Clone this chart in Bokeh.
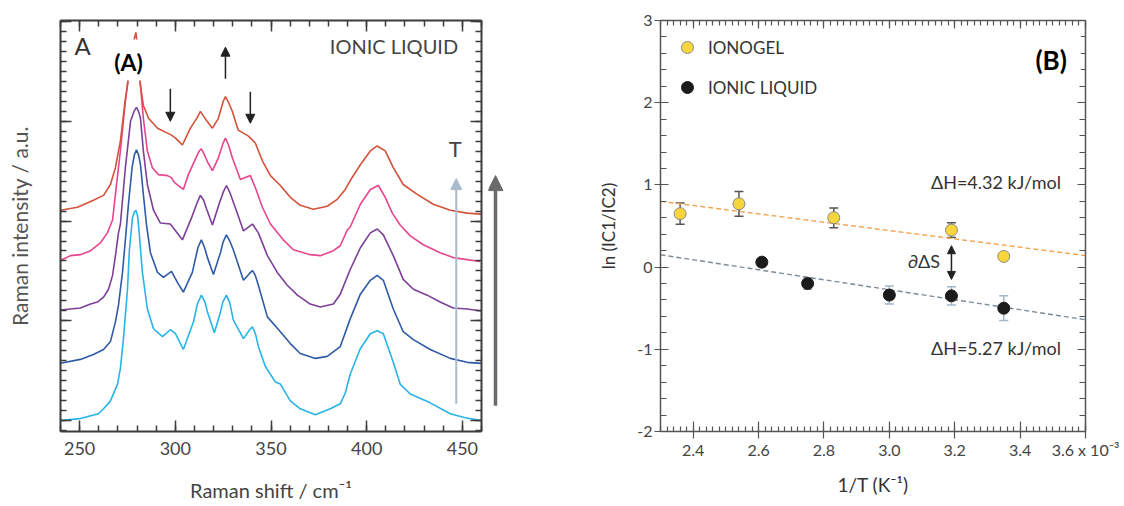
from bokeh.plotting import figure
from bokeh.layouts import row
from bokeh.models import (Range1d, FixedTicker, LinearAxis, Label, Arrow, NormalHead,
                          TeeHead, Whisker, ColumnDataSource, Legend, LegendItem)
from bokeh.embed import file_html
from bokeh.resources import INLINE

FONT = "Lato"

# ---------------- Panel A data: Raman spectra (shift in cm^-1, intensity in a.u.) -------------
cyan_x = [240.0, 249.9, 259.8, 262.5, 266.1, 269.8, 271.3, 272.9, 275.0, 276.0, 277.6, 278.5, 279.4,
          280.2, 280.7, 282.8, 285.4, 288.6, 293.3, 297.4, 300.1, 304.2, 309.5, 311.5, 313.6, 315.5,
          316.8, 320.4, 323.6, 324.8, 326.7, 328.5, 330.3, 335.6, 338.5, 340.3, 342.0, 343.4, 347.0,
          352.3, 354.9, 360.1, 365.3, 373.2, 381.0, 386.2, 388.8, 391.4, 396.7, 401.9, 405.5, 408.7,
          413.9, 417.5, 422.8, 433.2, 443.7, 451.5, 459.8]
cyan_y = [11, 13, 18, 23, 31, 48, 64, 94, 144, 184, 216, 222, 224,
          219, 211, 161, 124, 104, 96, 103, 99, 83, 111, 129, 138, 131,
          121, 100, 121, 131, 138, 130, 113, 94, 102, 106, 98, 86, 66,
          50, 48, 31, 23, 17, 23, 28, 39, 58, 84, 99, 102, 99,
          70, 48, 38, 29, 18, 14, 11]

blue_x = [240.0, 250.4, 257.2, 262.5, 266.1, 268.7, 270.3, 272.4, 273.9, 275.5, 277.4, 278.6, 279.7,
          280.8, 281.8, 283.3, 284.9, 287.0, 290.7, 293.8, 298.0, 301.1, 304.2, 308.9, 311.8, 313.6,
          315.3, 316.8, 319.9, 323.6, 325.0, 326.7, 328.4, 330.3, 335.6, 338.8, 340.3, 341.8, 343.4,
          348.1, 354.9, 360.1, 365.3, 373.2, 379.4, 386.2, 391.4, 396.7, 401.9, 405.5, 408.7, 413.9,
          419.1, 424.4, 433.2, 443.7, 452.5, 459.8]
blue_y = [69, 73, 78, 83, 91, 111, 128, 161, 194, 230, 267, 280, 285,
          280, 270, 240, 210, 181, 161, 156, 162, 151, 141, 161, 186, 194,
          186, 176, 159, 181, 192, 199, 193, 184, 153, 160, 163, 158, 148,
          116, 101, 89, 79, 74, 76, 86, 114, 139, 153, 158, 153, 124,
          101, 93, 83, 74, 70, 69]

purple_x = [240.0, 250.4, 255.7, 259.3, 262.5, 265.1, 267.2, 268.7, 270.3, 271.3, 273.9, 276.6, 278.4,
            279.7, 280.8, 281.8, 283.3, 285.4, 288.6, 292.2, 297.4, 303.7, 308.4, 311.5, 313.1, 314.8,
            316.2, 319.4, 323.0, 325.0, 326.7, 328.5, 332.4, 335.6, 340.3, 343.4, 348.1, 353.3, 358.5,
            363.8, 370.5, 375.8, 382.6, 386.2, 391.4, 396.7, 401.9, 405.5, 408.7, 413.9, 419.1, 424.4,
            431.6, 438.4, 445.2, 452.5, 459.8]
purple_y = [123, 125, 129, 131, 136, 144, 158, 178, 201, 210, 267, 314, 324,
            328, 324, 317, 284, 250, 224, 211, 210, 194, 216, 232, 239, 234,
            226, 209, 231, 242, 249, 242, 221, 203, 210, 201, 178, 161, 148,
            138, 129, 126, 129, 139, 164, 186, 201, 205, 199, 178, 154, 144,
            138, 131, 125, 124, 122]

pink_x = [240.0, 245.2, 250.4, 255.7, 260.9, 264.5, 267.2, 268.7, 271.3, 273.9, 275.5, 277.1, 279.4,
          280.7, 281.8, 283.3, 285.4, 288.0, 291.2, 295.9, 297.9, 299.6, 304.2, 306.8, 311.5, 312.5,
          313.6, 315.0, 316.8, 319.4, 322.5, 325.0, 326.2, 327.8, 329.8, 334.0, 339.2, 341.8, 345.5,
          349.7, 356.4, 361.7, 370.5, 375.8, 382.6, 386.2, 389.9, 391.4, 396.7, 401.9, 406.1, 409.7,
          413.4, 417.5, 422.8, 429.6, 438.4, 445.2, 452.5, 459.3]
pink_y = [173, 178, 179, 183, 191, 201, 214, 240, 284, 334, 360, 376, 383,
          371, 350, 317, 284, 267, 260, 259, 257, 252, 245, 260, 280, 284,
          286, 281, 273, 264, 277, 292, 297, 290, 277, 255, 259, 247, 227,
          210, 194, 184, 179, 178, 183, 188, 204, 207, 230, 245, 249, 237,
          221, 209, 198, 189, 181, 176, 174, 172]

red_x = [240.0, 248.9, 257.2, 262.5, 266.1, 268.7, 271.3, 273.9, 275.0, 277.1, 279.4, 280.7, 281.8,
         283.3, 286.0, 290.7, 295.9, 298.0, 300.1, 303.7, 307.9, 311.5, 313.1, 314.8, 316.2, 319.4,
         322.5, 325.0, 326.2, 327.8, 329.8, 332.9, 338.2, 341.8, 345.5, 349.7, 354.9, 360.1, 365.3,
         372.1, 379.4, 384.6, 388.8, 391.4, 396.7, 401.9, 405.5, 409.7, 413.9, 419.1, 426.4, 434.8,
         443.7, 452.5, 459.8]
red_y = [224, 227, 234, 239, 250, 267, 294, 337, 350, 386, 404, 381, 350,
         330, 317, 307, 302, 300, 297, 290, 307, 318, 324, 319, 315, 307,
         317, 334, 339, 333, 324, 305, 299, 292, 274, 259, 249, 237, 229,
         225, 228, 235, 245, 254, 270, 284, 289, 284, 267, 250, 240, 230,
         224, 221, 220]

spectra = [
    (cyan_x, cyan_y, "#27b4e8"),
    (blue_x, blue_y, "#2f5aa6"),
    (purple_x, purple_y, "#7e3f98"),
    (pink_x, pink_y, "#e8458f"),
    (red_x, red_y, "#d2523a"),
]
xA_ticks = [250, 300, 350, 400, 450]
xA_tick_labels = ["250", "300", "350", "400", "450"]

# ---------------- Panel B data: ln(Ic1/Ic2) vs 1/T (x 10^-3 K^-1) -------------
inv_T_gel = [2.36, 2.54, 2.83, 3.19, 3.35]
ln_gel = [0.65, 0.77, 0.60, 0.45, 0.13]
err_gel = [0.13, 0.15, 0.12, 0.09, 0.0]
inv_T_il = [2.61, 2.75, 3.00, 3.19, 3.35]
ln_il = [0.06, -0.20, -0.34, -0.35, -0.50]
err_il = [0.0, 0.07, 0.11, 0.11, 0.15]
fit_x = [2.3, 3.6]
fit_gel = [0.80, 0.14]
fit_il = [0.15, -0.64]
xB_ticks = [2.4, 2.6, 2.8, 3.0, 3.2, 3.4, 3.6]
xB_tick_labels = ["2.4", "2.6", "2.8", "3.0", "3.2", "3.4", "3.6 x 10\u207b\u00b3"]
yB_ticks = [-2, -1, 0, 1, 2, 3]
yB_tick_labels = ["-2", "-1", "0", "1", "2", "3"]


def style_axis(ax, color, lw, tlw, maj_in, maj_out, min_in, min_out, labels=True,
               lab_size="15px", lab_color="#444"):
    ax.axis_line_color = color
    ax.axis_line_width = lw
    ax.major_tick_line_color = color
    ax.minor_tick_line_color = color
    ax.major_tick_line_width = tlw
    ax.minor_tick_line_width = tlw
    ax.major_tick_in = maj_in
    ax.major_tick_out = maj_out
    ax.minor_tick_in = min_in
    ax.minor_tick_out = min_out
    if labels:
        ax.major_label_text_font = FONT
        ax.major_label_text_font_size = lab_size
        ax.major_label_text_color = lab_color
    else:
        ax.major_label_text_font_size = "1px"
        ax.major_label_text_color = None
        ax.major_label_standoff = 0
    ax.axis_label_text_font = FONT
    ax.axis_label_text_font_style = "normal"


# ================= Panel A =================
pA = figure(width=488, height=506, x_range=Range1d(240, 460), y_range=Range1d(0, 416),
            output_backend="svg", toolbar_location=None,
            min_border_left=60, min_border_right=7, min_border_top=15, min_border_bottom=75)
pA.outline_line_color = None
pA.grid.visible = False

for xs, ys, col in spectra:
    pA.line(xs, ys, line_color=col, line_width=1.6)

ax_tick_A = FixedTicker(ticks=xA_ticks, minor_ticks=list(range(240, 461, 10)))
ay_major = [11 + 101 * k for k in range(5)]
ay_minor = [11 + 10.1 * k for k in range(-1, 41)]
ay_tick_A = FixedTicker(ticks=ay_major, minor_ticks=ay_minor)

cA = "#3c3c3c"
xb = pA.xaxis[0]
xb.ticker = ax_tick_A
xb.major_label_overrides = dict(zip(xA_ticks, xA_tick_labels))
style_axis(xb, cA, 2, 1.5, 11, 0, 6, 0, labels=True, lab_size="18px", lab_color="#444")
xb.major_label_standoff = 10
xb.axis_label = "Raman shift / cm\u207b\u00b9"
xb.axis_label_text_font_size = "20px"
xb.axis_label_text_color = "#444"
xb.axis_label_standoff = 20

yl = pA.yaxis[0]
yl.ticker = ay_tick_A
style_axis(yl, cA, 2, 1.5, 11, 0, 6, 0, labels=False)
yl.axis_label = "Raman intensity / a.u."
yl.axis_label_text_font_size = "21px"
yl.axis_label_text_color = "#555"
yl.axis_label_standoff = 29

xt = LinearAxis(ticker=ax_tick_A)
style_axis(xt, cA, 2, 1.5, 11, 0, 6, 0, labels=False)
pA.add_layout(xt, "above")
yr = LinearAxis(ticker=ay_tick_A)
style_axis(yr, cA, 2, 1.5, 11, 0, 6, 0, labels=False)
pA.add_layout(yr, "right")

# annotations panel A
pA.add_layout(Label(x=251.5, y=391, text="A", text_font=FONT, text_font_size="24px",
                    text_color="#333", text_align="center", text_baseline="middle"))
pA.add_layout(Label(x=447.8, y=390, text="IONIC LIQUID", text_font=FONT, text_font_size="20px",
                    text_color="#444", text_align="right", text_baseline="middle"))
pA.add_layout(Label(x=275.5, y=376, text="(A)", text_font=FONT, text_font_size="23px",
                    text_font_style="bold", text_color="black", text_align="center",
                    text_baseline="middle", background_fill_color="white",
                    padding=dict(left=4, right=4, top=8, bottom=5)))
pA.add_layout(Label(x=446.3, y=286, text="T", text_font=FONT, text_font_size="22px",
                    text_color="#444", text_align="center", text_baseline="middle"))

arrow_col = "#222222"
for x0, y0, y1 in [(297.4, 347, 314), (326.2, 357, 389), (339.2, 344, 312)]:
    pA.add_layout(Arrow(x_start=x0, y_start=y0, x_end=x0, y_end=y1, line_color=arrow_col,
                        line_width=1.5,
                        end=NormalHead(size=9, fill_color=arrow_col, line_color=arrow_col)))
pA.add_layout(Arrow(x_start=446.8, y_start=28, x_end=446.8, y_end=256, line_color="#a8bccc",
                    line_width=2,
                    end=NormalHead(size=11, fill_color="#a8bccc", line_color="#a8bccc")))

# ================= Gap strip with the temperature arrow =================
pC = figure(width=40, height=506, x_range=Range1d(0, 40), y_range=Range1d(0, 416),
            output_backend="svg", toolbar_location=None, x_axis_type=None, y_axis_type=None,
            min_border_left=0, min_border_right=0, min_border_top=15, min_border_bottom=75)
pC.outline_line_color = None
pC.grid.visible = False
pC.add_layout(Arrow(x_start=7, y_start=26, x_end=7, y_end=259, line_color="#6b6b6b",
                    line_width=3.5,
                    end=NormalHead(size=15, fill_color="#6b6b6b", line_color="#6b6b6b")))

# ================= Panel B =================
pB = figure(width=596, height=506, x_range=Range1d(2.3, 3.6), y_range=Range1d(-2, 3),
            output_backend="svg", toolbar_location=None,
            min_border_left=132, min_border_right=39, min_border_top=20, min_border_bottom=65)
pB.outline_line_color = None
pB.grid.visible = False

pB.line(fit_x, fit_gel, line_color="#f5a24c", line_width=1.4, line_dash="5 3")
pB.line(fit_x, fit_il, line_color="#7d8b99", line_width=1.4, line_dash="5 3")

src_gel = ColumnDataSource(dict(x=inv_T_gel,
                                upper=[v + e for v, e in zip(ln_gel, err_gel)],
                                lower=[v - e for v, e in zip(ln_gel, err_gel)]))
src_il = ColumnDataSource(dict(x=inv_T_il,
                               upper=[v + e for v, e in zip(ln_il, err_il)],
                               lower=[v - e for v, e in zip(ln_il, err_il)]))
wg = Whisker(source=src_gel, base="x", upper="upper", lower="lower", line_color="#555555",
             line_width=1.5, level="underlay",
             upper_head=TeeHead(size=9, line_color="#555555", line_width=1.5),
             lower_head=TeeHead(size=9, line_color="#555555", line_width=1.5))
wi = Whisker(source=src_il, base="x", upper="upper", lower="lower", line_color="#a3b6c8",
             line_width=1.5, level="underlay",
             upper_head=TeeHead(size=9, line_color="#a3b6c8", line_width=1.5),
             lower_head=TeeHead(size=9, line_color="#a3b6c8", line_width=1.5))
pB.add_layout(wg)
pB.add_layout(wi)

r_gel = pB.scatter(inv_T_gel, ln_gel, size=12, fill_color="#f8d53a", line_color="#8a8a8a",
                   line_width=1)
r_il = pB.scatter(inv_T_il, ln_il, size=12, fill_color="#1b1b1b", line_color="#1b1b1b")

cB = "#555555"
minor_x_B = [2.3 + 0.02 * k for k in range(66)]
minor_y_B = [-2 + 0.2 * k for k in range(26)]
bx = pB.xaxis[0]
bx.ticker = FixedTicker(ticks=xB_ticks, minor_ticks=minor_x_B)
bx.major_label_overrides = dict(zip(xB_ticks, xB_tick_labels))
style_axis(bx, cB, 1.5, 1.2, 10, 7, 5, 0, labels=True, lab_size="16px", lab_color="#444")
bx.major_label_standoff = 1
bx.axis_label = "1/T (K\u207b\u00b9)"
bx.axis_label_text_font_size = "19px"
bx.axis_label_text_color = "#333"
bx.axis_label_standoff = 11

by = pB.yaxis[0]
by.ticker = FixedTicker(ticks=yB_ticks, minor_ticks=minor_y_B)
by.major_label_overrides = dict(zip(yB_ticks, yB_tick_labels))
style_axis(by, cB, 1.5, 1.2, 8, 6, 6, 0, labels=True, lab_size="16px", lab_color="#444")
by.major_label_standoff = 2
by.axis_label = "ln (IC1/IC2)"
by.axis_label_text_font_size = "17px"
by.axis_label_text_color = "#333"
by.axis_label_standoff = 15

bt = LinearAxis(ticker=FixedTicker(ticks=xB_ticks, minor_ticks=minor_x_B))
style_axis(bt, cB, 1.5, 1.2, 8, 0, 5, 0, labels=False)
pB.add_layout(bt, "above")
br = LinearAxis(ticker=FixedTicker(ticks=yB_ticks, minor_ticks=minor_y_B))
style_axis(br, cB, 1.5, 1.2, 8, 0, 6, 0, labels=False)
pB.add_layout(br, "right")

legend = Legend(items=[LegendItem(label="IONOGEL", renderers=[r_gel]),
                       LegendItem(label="IONIC LIQUID", renderers=[r_il])],
                location="top_left", margin=0, padding=12, spacing=10,
                glyph_width=30, glyph_height=30, label_height=30, label_standoff=6,
                label_text_font=FONT, label_text_font_size="17px", label_text_color="#333",
                background_fill_alpha=0, border_line_alpha=0)
pB.add_layout(legend)

pB.add_layout(Label(x=3.525, y=1.03, text="\u0394H=4.32 kJ/mol", text_font=FONT,
                    text_font_size="18px", text_color="#333", text_align="right",
                    text_baseline="middle"))
pB.add_layout(Label(x=3.525, y=-0.99, text="\u0394H=5.27 kJ/mol", text_font=FONT,
                    text_font_size="18px", text_color="#333", text_align="right",
                    text_baseline="middle"))
pB.add_layout(Label(x=3.155, y=0.07, text="\u2202\u0394S", text_font=FONT,
                    text_font_size="18px", text_color="#333", text_align="right",
                    text_baseline="middle"))
pB.add_layout(Arrow(x_start=3.19, y_start=-0.15, x_end=3.19, y_end=0.26, line_color="#222",
                    line_width=1.5,
                    start=NormalHead(size=8, fill_color="#222", line_color="#222"),
                    end=NormalHead(size=8, fill_color="#222", line_color="#222")))
pB.add_layout(Label(x=3.51, y=2.62, text="(B)", text_font=FONT, text_font_size="26px",
                    text_font_style="bold", text_color="black", text_align="center",
                    text_baseline="middle", background_fill_color="white",
                    padding=dict(left=4, right=14, top=16, bottom=0)))

layout = row(pA, pC, pB)
open("out.html", "w").write(file_html(layout, INLINE))
